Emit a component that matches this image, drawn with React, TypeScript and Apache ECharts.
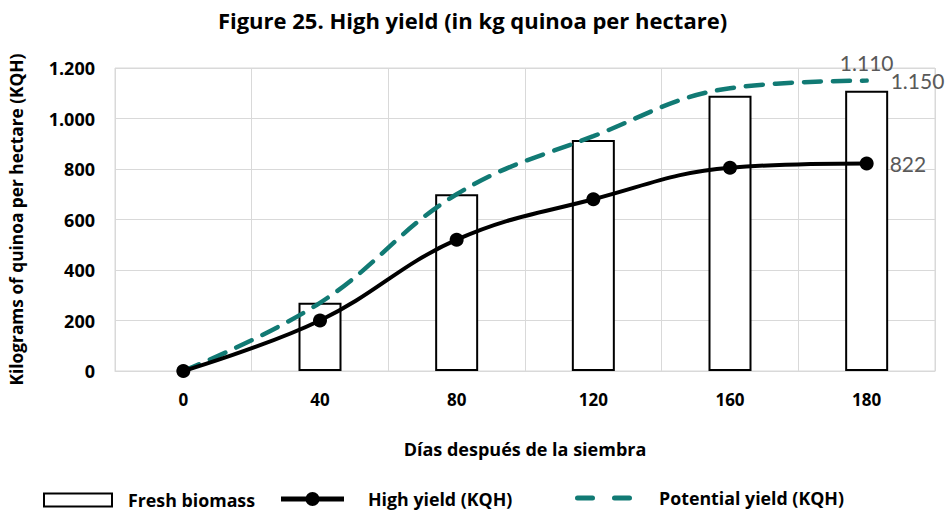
import React, { useEffect, useRef } from "react";
import * as echarts from "echarts";

const categories = ["0", "40", "80", "120", "160", "180"];
const freshBiomass: (number | null)[] = [null, 270, 700, 915, 1090, 1110];
const highYield = [0, 200, 520, 680, 805, 822];
const potentialYield = [0, 270, 700, 930, 1120, 1150];
const yTicks = [0, 200, 400, 600, 800, 1000, 1200];

const BOLD = "Open Sans";
const REG = "Lato";
const fmt = (v: number) => {
  const s = Math.round(v).toString();
  return s.replace(/\B(?=(\d{3})+(?!\d))/g, ".");
};

const TEAL = "#117A74";

export default function App() {
  const ref = useRef<HTMLDivElement>(null);
  useEffect(() => {
    if (!ref.current) return;
    const chart = echarts.init(ref.current, null, { renderer: "svg" });
    const last = categories.length - 1;
    const legendText = (pad: number) => ({
      fontFamily: BOLD,
      fontWeight: "bold",
      fontSize: 17.8,
      color: "#000",
      padding: [0, 0, 0, pad],
    });
    chart.setOption({
      animation: false,
      backgroundColor: "#ffffff",
      textStyle: { fontFamily: BOLD },
      title: {
        text: "Figure 25. High yield (in kg quinoa per hectare)",
        left: "center",
        top: 4,
        textStyle: { fontFamily: BOLD, fontWeight: "bold", fontSize: 22, color: "#000" },
      },
      grid: { left: 111, right: 10, top: 68, bottom: 144, show: true, borderColor: "#d9d9d9", borderWidth: 1 },
      legend: [
        {
          data: [{ name: "Fresh biomass", icon: "rect" }],
          left: 43,
          top: 491,
          padding: 0,
          itemWidth: 68,
          itemHeight: 13,
          itemStyle: { color: "#ffffff", borderColor: "#000000", borderWidth: 2 },
          textStyle: legendText(11),
        },
        {
          data: [
            {
              name: "High yield (KQH)",
              icon: "path://M0,4.5h63v5h-63z M24.5,7a7,7 0 1,1 14,0a7,7 0 1,1 -14,0z",
            },
          ],
          left: 281,
          top: 490,
          padding: 0,
          itemWidth: 63,
          itemHeight: 14,
          itemStyle: { color: "#000000" },
          textStyle: legendText(19),
        },
        {
          data: [
            {
              name: "Potential yield (KQH)",
              icon: "path://M2.5,0h15a2.5,2.5 0 0,1 0,5h-15a2.5,2.5 0 0,1 0,-5z M39.5,0h15a2.5,2.5 0 0,1 0,5h-15a2.5,2.5 0 0,1 0,-5z",
            },
          ],
          left: 575,
          top: 489,
          padding: 0,
          itemWidth: 57,
          itemHeight: 5,
          itemStyle: { color: TEAL },
          textStyle: legendText(22),
        },
      ],
      xAxis: {
        type: "category",
        data: categories,
        boundaryGap: true,
        name: "Días después de la siembra",
        nameLocation: "middle",
        nameGap: 69,
        nameTextStyle: { fontFamily: BOLD, fontWeight: "bold", fontSize: 18, color: "#000" },
        axisLine: { show: true, lineStyle: { color: "#d9d9d9", width: 1 } },
        axisTick: { show: false },
        axisLabel: { fontFamily: BOLD, fontWeight: "bold", fontSize: 17, color: "#000", margin: 20 },
        splitLine: { show: true, lineStyle: { color: "#d9d9d9", width: 1 } },
      },
      yAxis: {
        type: "value",
        min: 0,
        max: 1200,
        interval: 200,
        name: "Kilograms of quinoa per hectare (KQH)",
        nameLocation: "middle",
        nameGap: 90,
        nameTextStyle: { fontFamily: BOLD, fontWeight: "bold", fontSize: 17.3, color: "#000" },
        axisLine: { show: false },
        axisTick: { show: false },
        axisLabel: {
          fontFamily: BOLD,
          fontWeight: "bold",
          fontSize: 18,
          color: "#000",
          margin: 20,
          formatter: (v: number) => (yTicks.includes(v) ? fmt(v) : ""),
        },
        splitLine: { show: true, lineStyle: { color: "#d9d9d9", width: 1 } },
      },
      series: [
        {
          name: "Fresh biomass",
          type: "bar",
          data: freshBiomass.map((v, i) => ({
            value: v,
            label: {
              show: i === last,
              position: "top",
              distance: 18,
              formatter: (p: any) => fmt(p.value),
              fontFamily: REG,
              fontSize: 21,
              color: "#595959",
            },
          })),
          barWidth: 43,
          itemStyle: { color: "#ffffff", borderColor: "#000000", borderWidth: 2 },
          z: 1,
        },
        {
          name: "Potential yield (KQH)",
          type: "line",
          data: potentialYield,
          smooth: 0.4,
          symbol: "none",
          lineStyle: { color: TEAL, width: 4.5, type: [17, 12], cap: "round" },
          itemStyle: { color: TEAL },
          endLabel: {
            show: true,
            formatter: (p: any) => fmt(p.value),
            distance: 24,
            fontFamily: REG,
            fontSize: 21,
            color: "#595959",
          },
          z: 3,
        },
        {
          name: "High yield (KQH)",
          type: "line",
          data: highYield.map((v, i) => ({
            value: v,
            label: {
              show: i === last,
              position: "right",
              distance: 16,
              formatter: (p: any) => fmt(p.value),
              fontFamily: REG,
              fontSize: 21,
              color: "#595959",
            },
          })),
          smooth: 0.4,
          symbol: "circle",
          symbolSize: 14,
          showAllSymbol: true,
          lineStyle: { color: "#000000", width: 4 },
          itemStyle: { color: "#000000" },
          z: 4,
        },
      ],
    });
    return () => chart.dispose();
  }, []);
  return (
    <div
      ref={ref}
      style={{ position: "fixed", left: 0, top: 0, width: 945, height: 515 }}
    />
  );
}
